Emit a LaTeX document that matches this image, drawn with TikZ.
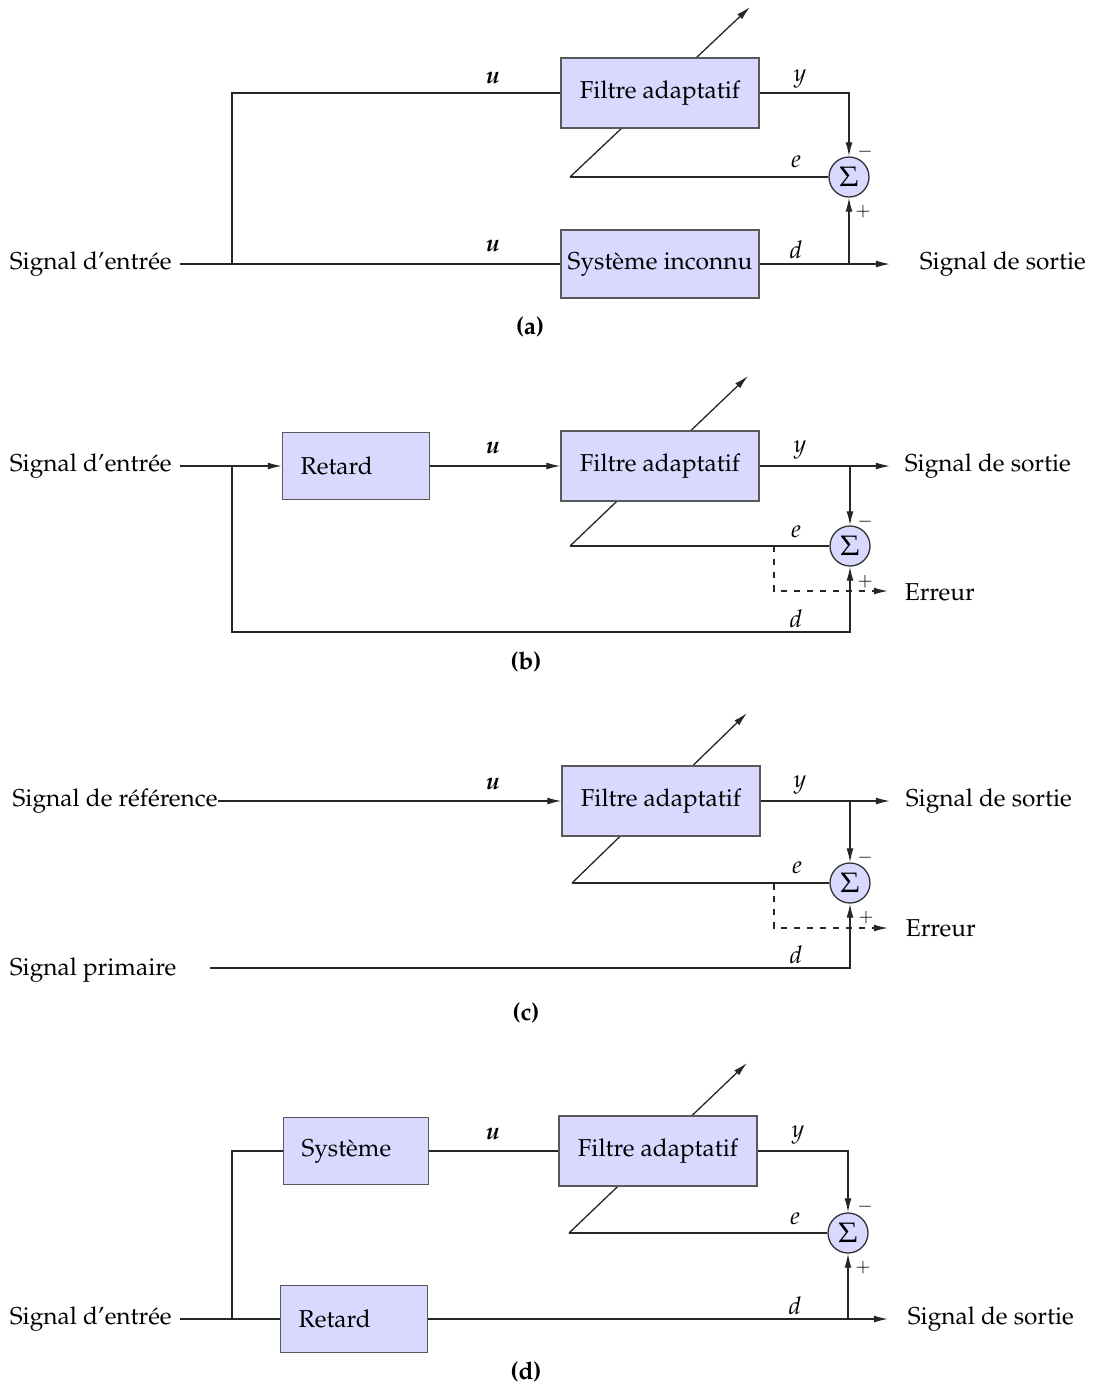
\documentclass[tikz,border=0pt]{standalone}
\usepackage[T1]{fontenc}
\usepackage{mathpazo}
\usepackage{bm}
\usetikzlibrary{arrows.meta}
\newcommand\pxu{0.4625pt}
\tikzset{
  box/.style={draw=black!65, fill=blue!15, minimum height=70*\pxu, inner sep=0pt},
  fbox/.style={box, minimum width=198*\pxu},
  lbox/.style={box, align=left, inner xsep=18*\pxu, text width=#1*\pxu},
  sum/.style={circle, draw=black!80, fill=blue!15, minimum size=40*\pxu, inner sep=0pt,
    font=\fontsize{13pt}{15pt}\selectfont},
  lbl/.style={inner sep=0pt},
  sgn/.style={font=\fontsize{8.5pt}{10pt}\selectfont, inner sep=0pt},
  subcap/.style={font=\fontsize{11.3pt}{13.6pt}\selectfont\bfseries},
  txt/.style={anchor=west},
}
\begin{document}
\begin{tikzpicture}[x=\pxu, y=-\pxu, line width=0.6pt, draw=black!85,
  font=\fontsize{11.3pt}{13.6pt}\selectfont, >={Latex[length=6.5pt,width=3.2pt]}]
\useasboundingbox (0,0) rectangle (1097,1391);

% (a) identification
\coordinate (e1) at (570,177);
\coordinate (a1) at (750,7);
\draw[->] (e1) -- (a1);
\node[fbox] (fa1) at (660,93) {Filtre adaptatif};
\node[fbox, minimum height=68*\pxu] (si1) at (660,264) {Syst\`eme inconnu};
\node[sum] (s1) at (849,177) {$\Sigma$};
\node[txt] (in1) at (2,264) {Signal d'entr\'ee};
\node[txt] (out1) at (912,264) {Signal de sortie};
\coordinate (j1) at (232,264);
\coordinate (k1) at (849,264);
\coordinate (o1) at (890,264);
\draw (in1) -- (si1);
\draw (j1) |- (fa1);
\draw[->] (fa1) -| (s1);
\draw (s1) -- (e1);
\draw[->] (si1) -- (o1);
\draw[->] (k1) -- (s1);
\node[lbl] at (493,78) {$\bm{u}$};
\node[lbl] at (493,246) {$\bm{u}$};
\node[lbl] at (800,79) {$y$};
\node[lbl] at (796,162) {$e$};
\node[lbl] at (796,250) {$d$};
\node[sgn] at (865,152) {$-$};
\node[sgn] at (863,212) {$+$};
\node[subcap] at (530,327) {(a)};

% (b) prediction
\coordinate (e2) at (570,546);
\coordinate (a2) at (748,376);
\draw[->] (e2) -- (a2);
\node[lbox=111, minimum height=67*\pxu] (ret2) at (356,466) {Retard};
\node[fbox] (fb2) at (660,466) {Filtre adaptatif};
\node[sum] (s2) at (850,546) {$\Sigma$};
\node[txt] (in2) at (2,466) {Signal d'entr\'ee};
\node[txt] (out2) at (897,466) {Signal de sortie};
\node[txt] (err2) at (897,592) {Erreur};
\coordinate (j2) at (232,466);
\coordinate (k2) at (850,466);
\coordinate (o2) at (890,466);
\coordinate (b2) at (850,632);
\coordinate (m2) at (774,546);
\coordinate (r2) at (888,591);
\draw[->] (in2) -- (ret2);
\draw[->] (ret2) -- (fb2);
\draw[->] (fb2) -- (o2);
\draw[->] (k2) -- (s2);
\draw[->] (j2) |- (b2) -- (s2);
\draw (s2) -- (e2);
\draw[dashed,->] (m2) |- (r2);
\node[lbl] at (493,448) {$\bm{u}$};
\node[lbl] at (800,450) {$y$};
\node[lbl] at (796,532) {$e$};
\node[lbl] at (796,619) {$d$};
\node[sgn] at (865,522) {$-$};
\node[sgn] at (865,582) {$+$};
\node[subcap] at (526,662) {(b)};

% (c) annulation
\coordinate (e3) at (572,883);
\coordinate (a3) at (747,713);
\draw[->] (e3) -- (a3);
\node[fbox] (fc3) at (661,801) {Filtre adaptatif};
\node[sum] (s3) at (850,883) {$\Sigma$};
\node[txt, inner xsep=0pt] (ref3) at (12,801) {Signal de r\'ef\'erence};
\node[txt] (prim3) at (2,970) {Signal primaire};
\node[txt] (out3) at (898,801) {Signal de sortie};
\node[txt] (err3) at (898,928) {Erreur};
\coordinate (k3) at (850,801);
\coordinate (o3) at (890,801);
\coordinate (p3) at (210,968);
\coordinate (b3) at (850,968);
\coordinate (m3) at (774,883);
\coordinate (r3) at (888,928);
\draw[->] (ref3) -- (fc3);
\draw[->] (fc3) -- (o3);
\draw[->] (k3) -- (s3);
\draw[->] (p3) -- (b3) -- (s3);
\draw (s3) -- (e3);
\draw[dashed,->] (m3) |- (r3);
\node[lbl] at (493,784) {$\bm{u}$};
\node[lbl] at (800,785) {$y$};
\node[lbl] at (797,868) {$e$};
\node[lbl] at (796,955) {$d$};
\node[sgn] at (865,858) {$-$};
\node[sgn] at (866,918) {$+$};
\node[subcap] at (526,1013) {(c)};

% (d) modelisation inverse
\coordinate (e4) at (569,1233);
\coordinate (a4) at (747,1063);
\draw[->] (e4) -- (a4);
\node[lbox=109, minimum height=67*\pxu] (sys4) at (356,1151) {Syst\`eme};
\node[lbox=111, minimum height=67*\pxu] (ret4) at (354,1319) {Retard};
\node[fbox] (fd4) at (658,1151) {Filtre adaptatif};
\node[sum] (s4) at (848,1233) {$\Sigma$};
\node[txt] (in4) at (2,1319) {Signal d'entr\'ee};
\node[txt] (out4) at (900,1319) {Signal de sortie};
\coordinate (j4) at (232,1319);
\coordinate (k4) at (848,1319);
\coordinate (o4) at (888,1319);
\draw (in4) -- (ret4);
\draw (j4) |- (sys4);
\draw (sys4) -- (fd4);
\draw[->] (fd4) -| (s4);
\draw (s4) -- (e4);
\draw[->] (ret4) -- (o4);
\draw[->] (k4) -- (s4);
\node[lbl] at (493,1134) {$\bm{u}$};
\node[lbl] at (798,1135) {$y$};
\node[lbl] at (795,1219) {$e$};
\node[lbl] at (795,1306) {$d$};
\node[sgn] at (865,1207) {$-$};
\node[sgn] at (863,1268) {$+$};
\node[subcap] at (526,1372) {(d)};
\end{tikzpicture}
\end{document}
